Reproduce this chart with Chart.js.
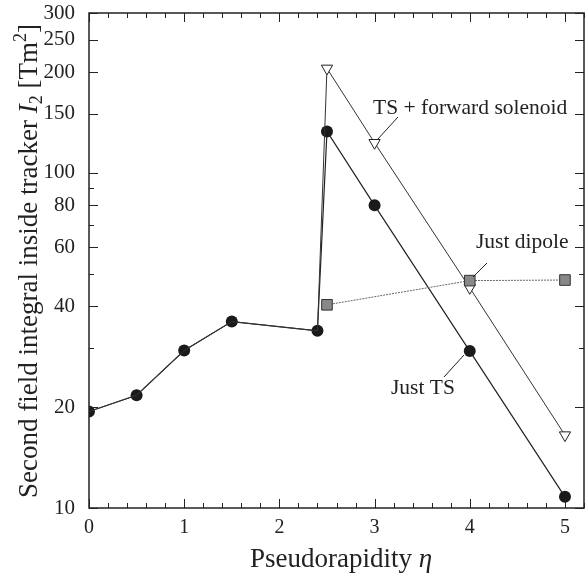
<!DOCTYPE html>
<html>
<head>
<meta charset="utf-8">
<script src="https://cdn.jsdelivr.net/npm/chart.js@4.4.1/dist/chart.umd.min.js"></script>
<style>
  html, body { margin: 0; padding: 0; background: #fff; overflow: hidden; }
  canvas { display: block; }
</style>
</head>
<body>
<canvas id="fieldChart" width="587" height="573"></canvas>
<script>
// pseudorapidity values
const etaTS = [0, 0.5, 1, 1.5, 2.4, 2.5, 3, 4, 5];
const justTS = [19.4, 21.7, 29.5, 36, 33.8, 133, 80, 29.4, 10.8];

const etaSol = [0, 0.5, 1, 1.5, 2.4, 2.5, 3, 4, 5];
const tsSolenoid = [19.4, 21.7, 29.5, 36, 33.8, 205, 123, 45.4, 16.5];

const etaDip = [2.5, 4, 5];
const justDipole = [40.4, 47.7, 47.9];

const xTickLabels = [0, 1, 2, 3, 4, 5];
const yTickLabels = [10, 20, 40, 60, 80, 100, 150, 200, 250, 300];
const yMinorTicks = [30, 50, 70, 90];

const SERIF = "'Liberation Serif', 'DejaVu Serif', serif";

function toPoints(xs, ys) {
  return xs.map((x, i) => ({ x: x, y: ys[i] }));
}

// draw the box, inward ticks, x labels, titles and the labels with leader lines
const framePlugin = {
  id: "frame",
  afterDraw(chart) {
    const ctx = chart.ctx;
    const a = chart.chartArea;
    const xs = chart.scales.x;
    const ys = chart.scales.y;
    ctx.save();
    ctx.strokeStyle = "#222";
    ctx.lineWidth = 1.5;
    ctx.strokeRect(a.left, a.top, a.right - a.left, a.bottom - a.top);

    ctx.lineWidth = 1;
    ctx.beginPath();
    for (let v = 0; v <= 5.2001; v += 0.2) {
      const px = Math.round(xs.getPixelForValue(v)) + 0.5;
      const major = Math.abs(v - Math.round(v)) < 1e-6;
      const len = major ? 9 : 5;
      ctx.moveTo(px, a.bottom); ctx.lineTo(px, a.bottom - len);
      ctx.moveTo(px, a.top); ctx.lineTo(px, a.top + len);
    }
    yTickLabels.concat(yMinorTicks).forEach(v => {
      const py = Math.round(ys.getPixelForValue(v)) + 0.5;
      const len = yMinorTicks.includes(v) ? 5 : 9;
      ctx.moveTo(a.left, py); ctx.lineTo(a.left + len, py);
      ctx.moveTo(a.right, py); ctx.lineTo(a.right - len, py);
    });
    ctx.stroke();

    // x tick labels
    ctx.fillStyle = "#222";
    ctx.font = "20px " + SERIF;
    ctx.textAlign = "center";
    ctx.textBaseline = "alphabetic";
    xTickLabels.forEach(v => {
      ctx.fillText(String(v), xs.getPixelForValue(v), 533);
    });

    // x title
    ctx.textAlign = "left";
    const t1 = "Pseudorapidity ";
    ctx.font = "27px " + SERIF;
    const w1 = ctx.measureText(t1).width;
    ctx.font = "italic 27px " + SERIF;
    const w2 = ctx.measureText("\u03b7").width;
    const sx = 341 - (w1 + w2) / 2;
    ctx.font = "27px " + SERIF;
    ctx.fillText(t1, sx, 567);
    ctx.font = "italic 27px " + SERIF;
    ctx.fillText("\u03b7", sx + w1, 567);

    // y title, rotated, built from pieces
    const parts = [
      { t: "Second field integral inside tracker ", f: "27px", dy: 0 },
      { t: "I", f: "italic 27px", dy: 0 },
      { t: "2", f: "18px", dy: 5 },
      { t: " [Tm", f: "27px", dy: 0 },
      { t: "2", f: "18px", dy: -11 },
      { t: "]", f: "27px", dy: 0 }
    ];
    let total = 0;
    parts.forEach(p => { ctx.font = p.f + " " + SERIF; p.w = ctx.measureText(p.t).width; total += p.w; });
    ctx.translate(37, 261);
    ctx.rotate(-Math.PI / 2);
    let cx = -total / 2;
    parts.forEach(p => {
      ctx.font = p.f + " " + SERIF;
      ctx.fillText(p.t, cx, p.dy);
      cx += p.w;
    });
    ctx.setTransform(1, 0, 0, 1, 0, 0);

    // annotations
    ctx.textBaseline = "middle";
    ctx.font = "21.5px " + SERIF;
    ctx.fillText("TS + forward solenoid", 373, 108);
    ctx.fillText("Just dipole", 476, 242);
    ctx.fillText("Just TS", 391, 388);
    ctx.lineWidth = 1;
    ctx.beginPath();
    ctx.moveTo(398, 117); ctx.lineTo(377, 140);
    ctx.moveTo(487, 263); ctx.lineTo(473, 277);
    ctx.moveTo(444, 377); ctx.lineTo(464, 355);
    ctx.stroke();
    ctx.restore();
  }
};

const solRadius = etaSol.map(x => (x < 2.45 ? 0 : 6.5));

const configField = {
  type: "scatter",
  data: {
    datasets: [
      {
        label: "Just dipole",
        data: toPoints(etaDip, justDipole),
        showLine: true,
        borderColor: "#666",
        borderWidth: 1,
        borderDash: [2, 1],
        pointStyle: "rect",
        pointRadius: 7.5,
        pointBackgroundColor: "#888",
        pointBorderColor: "#333",
        pointBorderWidth: 1
      },
      {
        label: "TS + forward solenoid",
        data: toPoints(etaSol, tsSolenoid),
        showLine: true,
        borderColor: "#333",
        borderWidth: 1,
        pointStyle: "triangle",
        rotation: 180,
        pointRadius: solRadius,
        pointBackgroundColor: "#fff",
        pointBorderColor: "#222",
        pointBorderWidth: 1
      },
      {
        label: "Just TS",
        data: toPoints(etaTS, justTS),
        showLine: true,
        borderColor: "#222",
        borderWidth: 1.2,
        pointStyle: "circle",
        pointRadius: 6,
        pointBackgroundColor: "#1a1a1a",
        pointBorderColor: "#1a1a1a",
        pointBorderWidth: 0
      }
    ]
  },
  options: {
    responsive: false,
    animation: false,
    layout: { autoPadding: false, padding: { left: 0, top: 13, right: 3, bottom: 0 } },
    plugins: {
      legend: { display: false },
      tooltip: { enabled: false }
    },
    scales: {
      x: {
        type: "linear",
        min: 0,
        max: 5.2,
        grid: { display: false },
        border: { display: false },
        afterFit: s => { s.height = 65; },
        ticks: { display: false }
      },
      y: {
        type: "logarithmic",
        min: 10,
        max: 300,
        grid: { display: false },
        border: { display: false },
        afterBuildTicks: s => { s.ticks = yTickLabels.map(v => ({ value: v })); },
        afterFit: s => { s.width = 89; s.paddingTop = 0; s.paddingBottom = 0; },
        ticks: {
          color: "#222",
          padding: 6,
          font: { family: SERIF, size: 21 },
          callback: v => String(v)
        }
      }
    }
  },
  plugins: [framePlugin]
};

const fieldChart = new Chart(document.getElementById("fieldChart"), configField);
</script>
</body>
</html>
